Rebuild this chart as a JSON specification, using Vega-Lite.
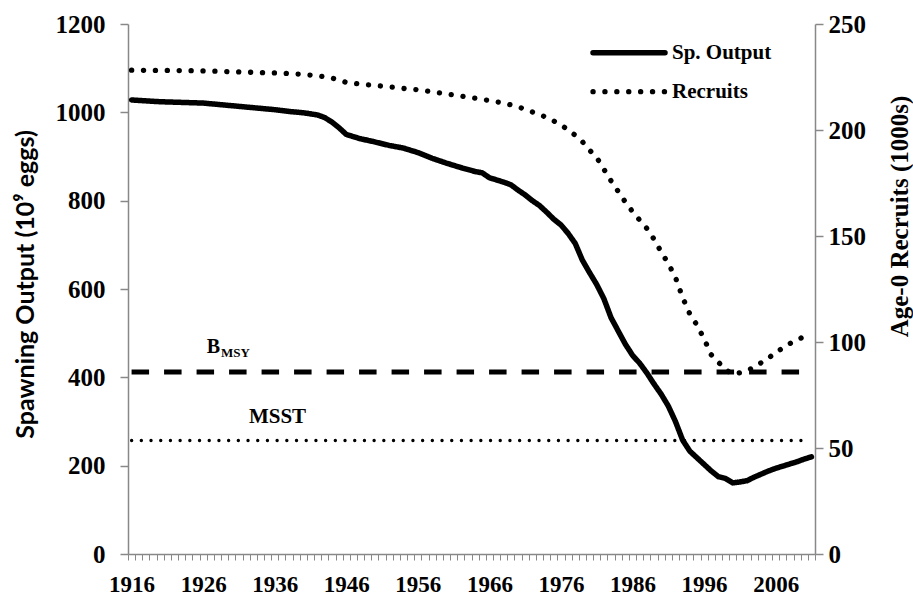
{
  "$schema": "https://vega.github.io/schema/vega-lite/v6.json",
  "width": 687,
  "height": 530,
  "autosize": {"type": "none"},
  "padding": {"left": 128, "top": 24, "right": 98, "bottom": 42},
  "background": "white",
  "config": {"view": {"stroke": null}, "font": "Liberation Serif"},
  "datasets": {
    "spawn": [
      {"year": 1916, "value": 1028}, {"year": 1918, "value": 1026}, {"year": 1920, "value": 1024},
      {"year": 1922, "value": 1023}, {"year": 1924, "value": 1022}, {"year": 1926, "value": 1021},
      {"year": 1928, "value": 1018}, {"year": 1930, "value": 1015}, {"year": 1932, "value": 1012},
      {"year": 1934, "value": 1009}, {"year": 1936, "value": 1006}, {"year": 1938, "value": 1002},
      {"year": 1940, "value": 999}, {"year": 1942, "value": 994}, {"year": 1943, "value": 988},
      {"year": 1944, "value": 978}, {"year": 1945, "value": 965}, {"year": 1946, "value": 950},
      {"year": 1947, "value": 945}, {"year": 1948, "value": 940}, {"year": 1950, "value": 933},
      {"year": 1952, "value": 925}, {"year": 1954, "value": 919}, {"year": 1956, "value": 909},
      {"year": 1958, "value": 896}, {"year": 1960, "value": 885}, {"year": 1962, "value": 875},
      {"year": 1964, "value": 866}, {"year": 1965, "value": 863}, {"year": 1966, "value": 852},
      {"year": 1968, "value": 842}, {"year": 1969, "value": 836}, {"year": 1970, "value": 824},
      {"year": 1971, "value": 813}, {"year": 1972, "value": 800}, {"year": 1973, "value": 789},
      {"year": 1974, "value": 774}, {"year": 1975, "value": 758}, {"year": 1976, "value": 745},
      {"year": 1977, "value": 726}, {"year": 1978, "value": 703}, {"year": 1979, "value": 665},
      {"year": 1980, "value": 637}, {"year": 1981, "value": 610}, {"year": 1982, "value": 578},
      {"year": 1983, "value": 535}, {"year": 1984, "value": 505}, {"year": 1985, "value": 475},
      {"year": 1986, "value": 450}, {"year": 1987, "value": 432}, {"year": 1988, "value": 410},
      {"year": 1989, "value": 385}, {"year": 1990, "value": 362}, {"year": 1991, "value": 335},
      {"year": 1992, "value": 300}, {"year": 1993, "value": 258}, {"year": 1994, "value": 233},
      {"year": 1995, "value": 218}, {"year": 1996, "value": 203}, {"year": 1997, "value": 188},
      {"year": 1998, "value": 175}, {"year": 1999, "value": 171}, {"year": 2000, "value": 161},
      {"year": 2001, "value": 163}, {"year": 2002, "value": 166}, {"year": 2003, "value": 174},
      {"year": 2004, "value": 181}, {"year": 2005, "value": 188}, {"year": 2006, "value": 194},
      {"year": 2007, "value": 199}, {"year": 2008, "value": 204}, {"year": 2009, "value": 209},
      {"year": 2010, "value": 215}, {"year": 2011, "value": 220}
    ],
    "recruits": [
      {"year": 1916, "value": 228.2}, {"year": 1920, "value": 228.1}, {"year": 1925, "value": 228},
      {"year": 1930, "value": 227.5}, {"year": 1935, "value": 227}, {"year": 1938, "value": 226.7},
      {"year": 1940, "value": 226.2}, {"year": 1942, "value": 225.6}, {"year": 1944, "value": 224.5},
      {"year": 1946, "value": 222.5}, {"year": 1948, "value": 221.6}, {"year": 1950, "value": 221},
      {"year": 1952, "value": 220.4}, {"year": 1954, "value": 219.6}, {"year": 1956, "value": 219},
      {"year": 1958, "value": 218}, {"year": 1960, "value": 217}, {"year": 1962, "value": 216},
      {"year": 1964, "value": 215}, {"year": 1966, "value": 213.9}, {"year": 1968, "value": 212.7},
      {"year": 1970, "value": 211}, {"year": 1972, "value": 208.5}, {"year": 1974, "value": 206},
      {"year": 1976, "value": 202.5}, {"year": 1978, "value": 197.5}, {"year": 1979, "value": 194.5},
      {"year": 1980, "value": 190.5}, {"year": 1981, "value": 187}, {"year": 1982, "value": 181.5},
      {"year": 1983, "value": 176}, {"year": 1984, "value": 171}, {"year": 1985, "value": 166},
      {"year": 1986, "value": 161.5}, {"year": 1987, "value": 157.5}, {"year": 1988, "value": 153.6},
      {"year": 1989, "value": 148.5}, {"year": 1990, "value": 142.5}, {"year": 1991, "value": 137},
      {"year": 1992, "value": 130.5}, {"year": 1993, "value": 121}, {"year": 1994, "value": 113.3},
      {"year": 1995, "value": 108}, {"year": 1996, "value": 101.5}, {"year": 1997, "value": 94},
      {"year": 1998, "value": 90.5}, {"year": 1999, "value": 87}, {"year": 2000, "value": 84.8},
      {"year": 2001, "value": 85.5}, {"year": 2002, "value": 86.6}, {"year": 2003, "value": 88},
      {"year": 2004, "value": 90.3}, {"year": 2005, "value": 92.3}, {"year": 2006, "value": 95.3},
      {"year": 2007, "value": 97}, {"year": 2008, "value": 99.3}, {"year": 2009, "value": 101},
      {"year": 2010, "value": 102.6}
    ],
    "bmsy": [{"year": 1916, "value": 412}, {"year": 2010, "value": 412}],
    "msst": [{"year": 1916, "value": 257}, {"year": 2010, "value": 257}]
  },
  "encoding": {
    "x": {
      "field": "year",
      "type": "quantitative",
      "scale": {"domain": [1915.5, 2011.5], "nice": false, "zero": false},
      "axis": {
        "values": [1915.5,1916.5,1917.5,1918.5,1919.5,1920.5,1921.5,1922.5,1923.5,1924.5,1925.5,1926.5,1927.5,1928.5,1929.5,1930.5,1931.5,1932.5,1933.5,1934.5,1935.5,1936.5,1937.5,1938.5,1939.5,1940.5,1941.5,1942.5,1943.5,1944.5,1945.5,1946.5,1947.5,1948.5,1949.5,1950.5,1951.5,1952.5,1953.5,1954.5,1955.5,1956.5,1957.5,1958.5,1959.5,1960.5,1961.5,1962.5,1963.5,1964.5,1965.5,1966.5,1967.5,1968.5,1969.5,1970.5,1971.5,1972.5,1973.5,1974.5,1975.5,1976.5,1977.5,1978.5,1979.5,1980.5,1981.5,1982.5,1983.5,1984.5,1985.5,1986.5,1987.5,1988.5,1989.5,1990.5,1991.5,1992.5,1993.5,1994.5,1995.5,1996.5,1997.5,1998.5,1999.5,2000.5,2001.5,2002.5,2003.5,2004.5,2005.5,2006.5,2007.5,2008.5,2009.5,2010.5,2011.5],
        "labelExpr": "(datum.value + 0.5) % 10 == 6 ? '' + (datum.value + 0.5) : ''",
        "labelOffset": 3.6,
        "labelFlush": false,
        "labelOverlap": false,
        "labelBound": false,
        "tickSize": 6,
        "tickWidth": 1,
        "tickColor": "#888888",
        "domainColor": "#888888",
        "domainWidth": 1.5,
        "labelFont": "Liberation Serif",
        "labelFontSize": 23,
        "labelFontWeight": "bold",
        "labelColor": "black",
        "labelPadding": 13,
        "grid": false,
        "title": null
      }
    }
  },
  "layer": [
    {
      "encoding": {
        "y": {
          "field": "value",
          "type": "quantitative",
          "scale": {"domain": [0, 1200], "nice": false},
          "axis": {
            "values": [0, 200, 400, 600, 800, 1000, 1200],
            "format": "d",
            "tickSize": 8,
            "tickWidth": 1.5,
            "tickColor": "#888888",
            "domainColor": "#888888",
            "domainWidth": 1.5,
            "labelFont": "Liberation Serif",
            "labelFontSize": 25,
            "labelFontWeight": "bold",
            "labelColor": "black",
            "labelPadding": 15,
            "grid": false,
            "title": "Spawning Output (10⁹ eggs)",
            "titleFont": "Lato",
            "titleFontSize": 25,
            "titleFontWeight": "bold",
            "titleColor": "black",
            "titleAngle": 270,
            "titleAlign": "center",
            "titleBaseline": "middle",
            "titleX": -103,
            "titleY": 260
          }
        }
      },
      "layer": [
        {
          "data": {"name": "bmsy"},
          "mark": {"type": "line", "color": "black", "strokeWidth": 5, "strokeDash": [17.5, 15]},
          "encoding": {}
        },
        {
          "data": {"name": "msst"},
          "mark": {"type": "line", "color": "black", "strokeWidth": 3.3, "strokeDash": [0.1, 9.6], "strokeCap": "round"},
          "encoding": {}
        },
        {
          "data": {"name": "spawn"},
          "mark": {"type": "line", "color": "black", "strokeWidth": 5.5, "strokeCap": "round", "strokeJoin": "round"},
          "encoding": {
            "strokeDash": {
              "datum": "Sp. Output",
              "type": "nominal",
              "scale": {"domain": ["Sp. Output"], "range": [[1, 0]]},
              "legend": {
                "orient": "none",
                "legendX": 462,
                "legendY": -10.3,
                "title": null,
                "padding": 0,
                "symbolType": "stroke",
                "symbolSize": 5184,
                "symbolStrokeWidth": 5.5,
                "symbolStrokeColor": "black",
                "labelFont": "Liberation Serif",
                "labelFontSize": 21,
                "labelFontWeight": "bold",
                "labelColor": "black",
                "labelOffset": 4,
                "encode": {"symbols": {"update": {"strokeCap": {"value": "round"}}}}
              }
            }
          }
        },
        {
          "data": {"values": [{"text": "B", "year": 1926.5, "value": 455}]},
          "mark": {"type": "text", "align": "left", "baseline": "alphabetic", "font": "Liberation Serif", "fontSize": 20, "fontWeight": "bold", "color": "black"},
          "encoding": {"text": {"field": "text"}}
        },
        {
          "data": {"values": [{"text": "MSY", "year": 1928.5, "value": 446}]},
          "mark": {"type": "text", "align": "left", "baseline": "alphabetic", "font": "Liberation Serif", "fontSize": 13, "fontWeight": "bold", "color": "black"},
          "encoding": {"text": {"field": "text"}}
        },
        {
          "data": {"values": [{"text": "MSST", "year": 1932.4, "value": 296}]},
          "mark": {"type": "text", "align": "left", "baseline": "alphabetic", "font": "Liberation Serif", "fontSize": 21, "fontWeight": "bold", "color": "black"},
          "encoding": {"text": {"field": "text"}}
        }
      ]
    },
    {
      "data": {"name": "recruits"},
      "mark": {"type": "line", "strokeWidth": 5.3, "strokeCap": "round", "strokeJoin": "round", "strokeDash": [0.1, 11.8]},
      "encoding": {
        "y": {
          "field": "value",
          "type": "quantitative",
          "scale": {"domain": [0, 250], "nice": false},
          "axis": {
            "orient": "right",
            "values": [0, 50, 100, 150, 200, 250],
            "format": "d",
            "tickSize": 8,
            "tickWidth": 1.5,
            "tickColor": "#888888",
            "domainColor": "#888888",
            "domainWidth": 1.5,
            "labelFont": "Liberation Serif",
            "labelFontSize": 25,
            "labelFontWeight": "bold",
            "labelColor": "black",
            "labelPadding": 5,
            "grid": false,
            "title": "Age-0 Recruits (1000s)",
            "titleFont": "Liberation Serif",
            "titleFontSize": 25,
            "titleFontWeight": "bold",
            "titleColor": "black",
            "titleAngle": 270,
            "titleAlign": "center",
            "titleBaseline": "middle",
            "titleX": 84,
            "titleY": 192
          }
        },
        "color": {
          "datum": "Recruits",
          "type": "nominal",
          "scale": {"domain": ["Recruits"], "range": ["black"]},
          "legend": {
            "orient": "none",
            "legendX": 462,
            "legendY": 28.7,
            "title": null,
            "padding": 0,
            "symbolType": "stroke",
            "symbolSize": 5184,
            "symbolStrokeWidth": 5.3,
            "symbolDash": [0.1, 11.8],
            "labelFont": "Liberation Serif",
            "labelFontSize": 21,
            "labelFontWeight": "bold",
            "labelColor": "black",
            "labelOffset": 4,
            "encode": {"symbols": {"update": {"strokeCap": {"value": "round"}, "strokeDash": {"value": [0.1, 11.8]}}}}
          }
        }
      }
    }
  ],
  "resolve": {"scale": {"y": "independent"}}
}
